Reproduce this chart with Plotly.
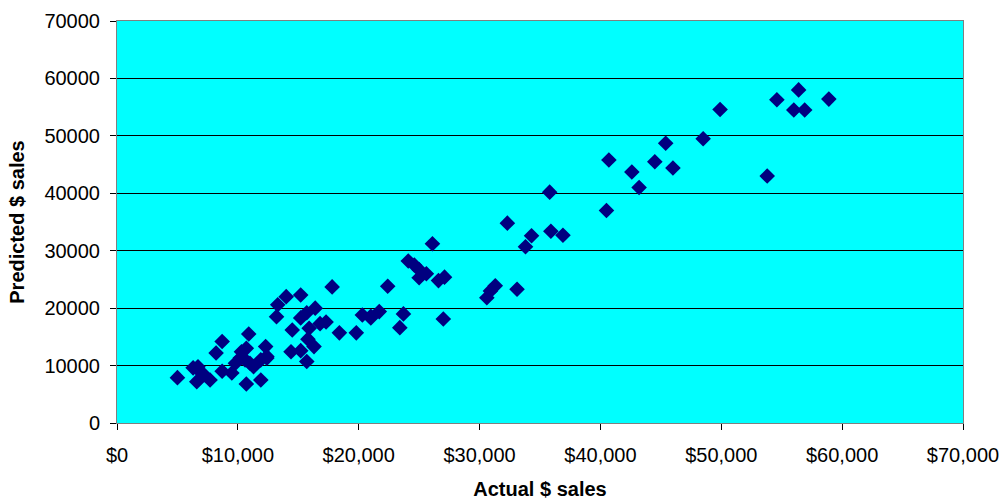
import plotly.graph_objects as go

# Actual vs. predicted sales, one point per observation
actual_sales = [
    5000, 6300, 6700, 6600, 7200, 7700, 6900, 8200, 8700, 8700, 9500,
    9800, 10200, 10300, 10700, 10600, 10900, 11000, 11300, 10700, 11900,
    11900, 12300, 12400, 12400,
    13200, 13300, 14000, 15200, 15700, 16400, 15200, 15900, 16800, 17300,
    14500, 18400, 19800, 20300, 21000, 21700, 15800, 16300, 14400, 15200,
    15700, 17800,
    21000, 22400, 23700, 23400, 27000, 24100, 24600, 25000, 25600, 25000,
    26600, 27100, 26100,
    30600, 30900, 31300, 33100, 32300, 33800, 34300, 35900, 36900, 35800,
    40500, 40700, 42600, 43200, 44500, 45400, 46000, 48500, 49900,
    53800, 54600, 56000, 56900, 56400, 58900,
]
predicted_sales = [
    7900, 9600, 9800, 7200, 8400, 7500, 8900, 12200, 14200, 9000, 8700,
    10400, 11300, 12400, 13000, 11000, 15500, 10400, 9800, 6800, 7500,
    11000, 13300, 11600, 11300,
    18500, 20600, 22000, 22300, 19200, 20000, 18300, 16500, 17300, 17600,
    16200, 15700, 15700, 18800, 18300, 19400, 14600, 13300, 12400, 12600,
    10700, 23700,
    18600, 23800, 19000, 16600, 18100, 28200, 27500, 26700, 26000, 25300,
    24800, 25400, 31200,
    21800, 23000, 23900, 23300, 34800, 30700, 32600, 33400, 32700, 40200,
    37000, 45800, 43700, 41000, 45500, 48700, 44400, 49500, 54600,
    43000, 56300, 54500, 54500, 58000, 56400,
]

x_ticks = [0, 10000, 20000, 30000, 40000, 50000, 60000, 70000]
y_ticks = [0, 10000, 20000, 30000, 40000, 50000, 60000, 70000]

fig = go.Figure(
    go.Scatter(
        x=actual_sales,
        y=predicted_sales,
        mode="markers",
        marker=dict(symbol="diamond", size=12, color="#000080",
                    line=dict(width=0)),
        showlegend=False,
    )
)

axis_font = dict(family="Liberation Sans, Arial, sans-serif", size=20, color="black")
title_font = dict(family="Liberation Sans, Arial, sans-serif", size=20, color="black")

fig.update_layout(
    width=1004,
    height=503,
    margin=dict(l=117, r=41, t=21, b=80),
    paper_bgcolor="white",
    plot_bgcolor="#00FFFF",
    font=axis_font,
)

fig.update_xaxes(
    range=[0, 70000],
    tickvals=x_ticks,
    tickformat="$,.0f",
    showgrid=False,
    zeroline=False,
    showline=True,
    linecolor="#808080",
    linewidth=1,
    mirror=True,
    ticks="outside",
    ticklen=6,
    tickcolor="black",
    tickfont=axis_font,
    ticklabelstandoff=8,
    automargin=False,
    title=dict(text="<b>Actual $ sales</b>", font=title_font, standoff=16),
)

fig.update_yaxes(
    range=[0, 70000],
    tickvals=y_ticks,
    tickformat="d",
    showgrid=True,
    gridcolor="black",
    gridwidth=1,
    zeroline=False,
    showline=True,
    linecolor="#808080",
    linewidth=1,
    mirror=True,
    ticks="outside",
    ticklen=6,
    tickcolor="black",
    tickfont=axis_font,
    ticklabelstandoff=6,
    automargin=False,
    title=dict(text="<b>Predicted $ sales</b>", font=title_font, standoff=14),
)

fig.write_html("out.html")
